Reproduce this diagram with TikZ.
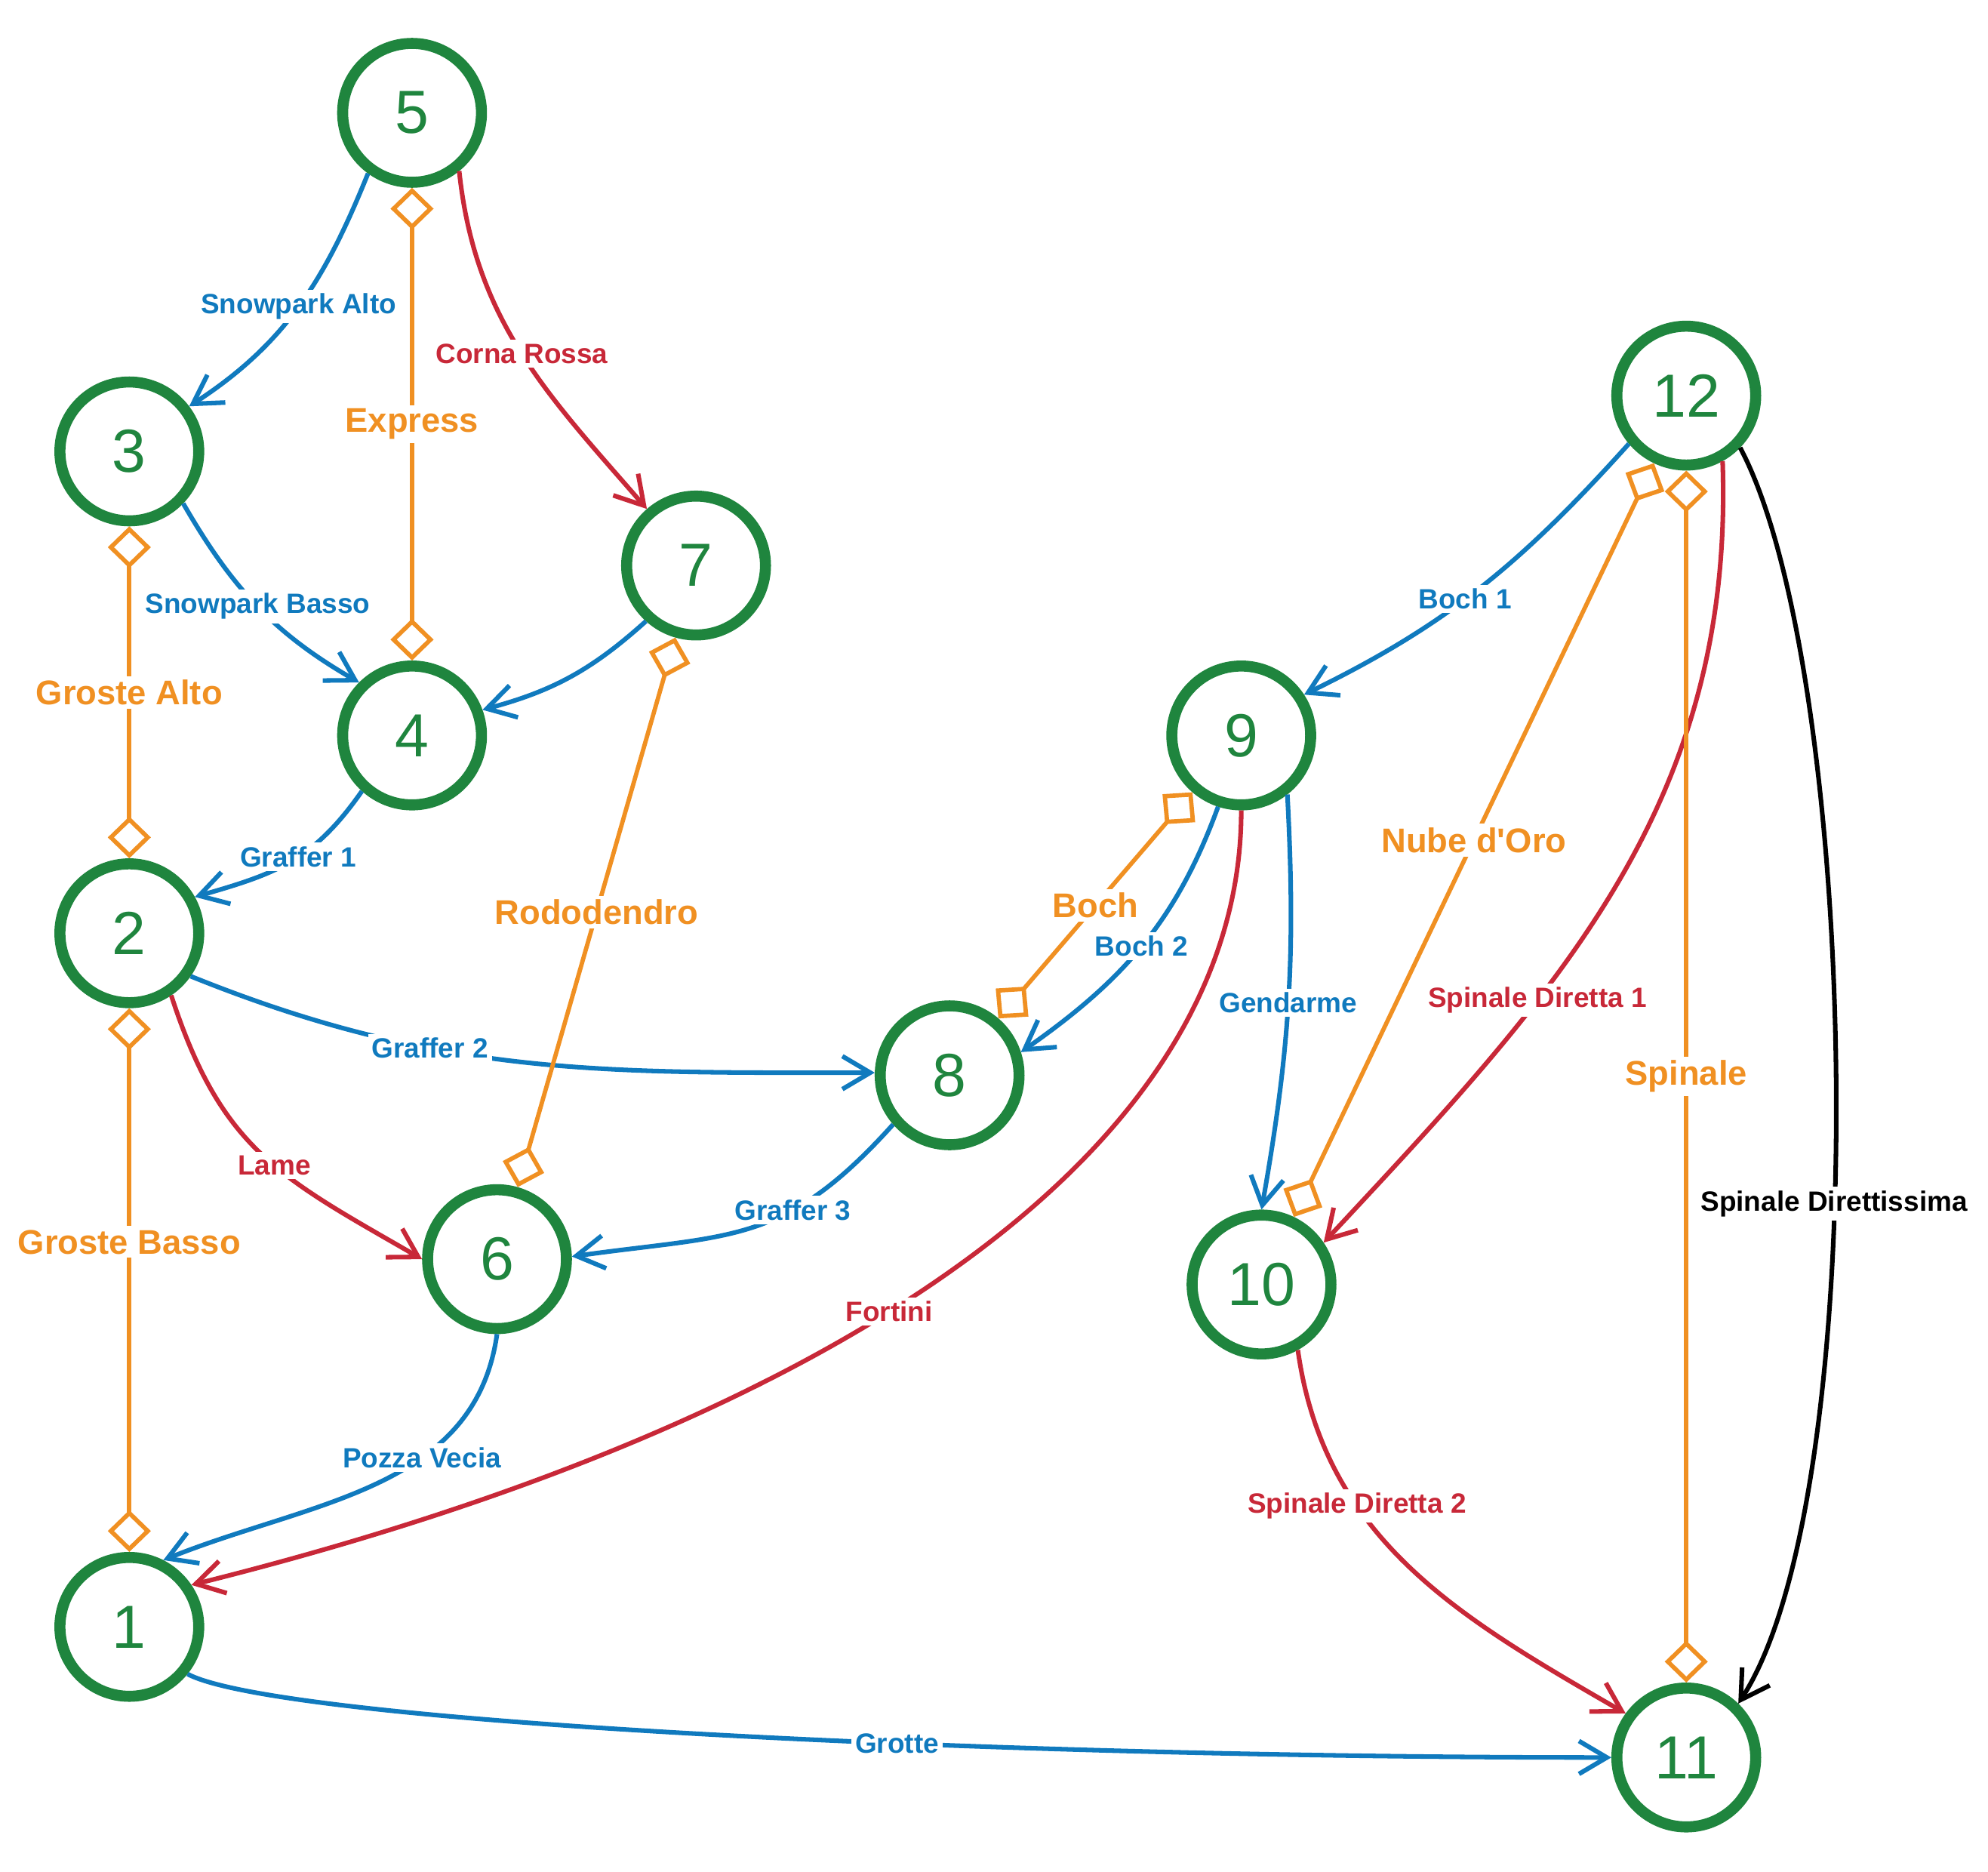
\documentclass[tikz,border=0pt]{standalone}
\usepackage{fontspec}
\setmainfont{Liberation Sans}
\usetikzlibrary{arrows.meta}

\definecolor{verde}{RGB}{31,133,62}
\definecolor{blu}{RGB}{16,122,190}
\definecolor{rosso}{RGB}{200,40,56}
\definecolor{arancio}{RGB}{240,144,34}

\begin{document}
\begin{tikzpicture}[x=0.5pt, y=-0.5pt,
		every node/.style={font=\bfseries\fontsize{11}{13}\selectfont},
		staz/.style={circle, draw=verde, line width=4.35pt, minimum size=54.75pt, inner sep=0pt, text=verde, font=\fontsize{24}{24}\selectfont},
		etic/.style={fill=white, inner sep=1.5pt},
		pista/.style={line width=1.8pt, -{Straight Barb[length=11pt,width=13pt]}},
		blu/.style={pista, color=blu},
		rossa/.style={pista, color=rosso},
		nera/.style={pista, color=black},
		impianto/.style={color=arancio, line width=1.7pt, {Diamond[open,length=16.5pt,width=17pt]}-{Diamond[open,length=16.5pt,width=17pt]}, every node/.append style={font=\bfseries\fontsize{13.5}{15}\selectfont}}]
	\useasboundingbox (0,0) rectangle (1568,1476);
	
	\node[staz] (s5) at (325,89) {5};
	\node[staz] (s3) at (102,356) {3};
	\node[staz] (s4) at (325,580) {4};
	\node[staz] (s7) at (549,446) {7};
	\node[staz] (s2) at (102,736) {2};
	\node[staz] (s6) at (392,993) {6};
	\node[staz] (s1) at (102,1283) {1};
	\node[staz] (s8) at (749,848) {8};
	\node[staz] (s9) at (979,580) {9};
	\node[staz] (s12) at (1330,312) {12};
	\node[staz] (s10) at (995,1013) {10};
	\node[staz] (s11) at (1330,1386) {11};
	
	% piste blu
	\draw[blu] (s5.234) to[out=248, in=33] node[etic] {Snowpark Alto} (s3.37);
	\draw[blu] (s3.316) to[out=300, in=150] node[etic] {Snowpark Basso} (s4.135);
	\draw[blu] (s7.228) to[out=222, in=15] (s4.20);
	\draw[blu] (s4.228) to[out=235, in=16, looseness=1.1] node[etic, pos=0.45] {Graffer 1} (s2.29);
	\draw[blu] (s2.325) to[out=-22, in=180] node[etic, pos=0.35] {Graffer 2} (s8.178);
	\draw[blu] (s8.221) to[out=228, in=8, looseness=1.2] node[etic, pos=0.35] {Graffer 3} (s6.2);
	\draw[blu] (s6.270) to[out=262, in=22] node[etic, pos=0.37] {Pozza Vecia} (s1.63);
	\draw[blu] (s1.321) to[out=-28, in=180, out distance=40pt, in distance=250pt] node[etic, pos=0.62] {Grotte} (s11.180);
	\draw[blu] (s12.220) to[out=228, in=26] node[etic, pos=0.55] {Boch 1} (s9.33);
	\draw[blu] (s9.252) to[out=250, in=35] node[etic] {Boch 2} (s8.18);
	\draw[blu] (s9.308) to[out=273, in=80] node[etic] {Gendarme} (s10.90);
	
	% piste rosse
	\draw[rossa] (s5.309) to[out=276, in=131] node[etic] {Corna Rossa} (s7.131);
	\draw[rossa] (s2.304) to[out=288, in=150, looseness=1.15] node[etic, pos=0.55] {Lame} (s6.180);
	\draw[rossa] (s9.270) to[out=270, in=14, out distance=140pt, in distance=250pt] node[etic, pos=0.55] {Fortini} (s1.34);
	\draw[rossa] (s12.299) to[out=272, in=47] node[etic, pos=0.66] {Spinale Diretta 1} (s10.34);
	\draw[rossa] (s10.299) to[out=278, in=150] node[etic, pos=0.33] {Spinale Diretta 2} (s11.144);
	
	% pista nera
	\draw[nera] (s12.316) to[out=-62, in=57, out distance=100pt, in distance=100pt] node[etic, pos=0.58] {Spinale Direttissima} (s11.46);
	
	% impianti
	\draw[impianto] (s5) -- node[etic] {Express} (s4);
	\draw[impianto] (s3) -- node[etic] {Groste Alto} (s2);
	\draw[impianto] (s2) -- node[etic, pos=0.43] {Groste Basso} (s1);
	\draw[impianto] (s7) -- node[etic] {Rododendro} (s6);
	\draw[impianto] (s9) -- node[etic] {Boch} (s8);
	\draw[impianto] (s12) -- node[etic] {Nube d\textquotesingle Oro} (s10);
	\draw[impianto] (s12) -- node[etic] {Spinale} (s11);
\end{tikzpicture}
\end{document}
